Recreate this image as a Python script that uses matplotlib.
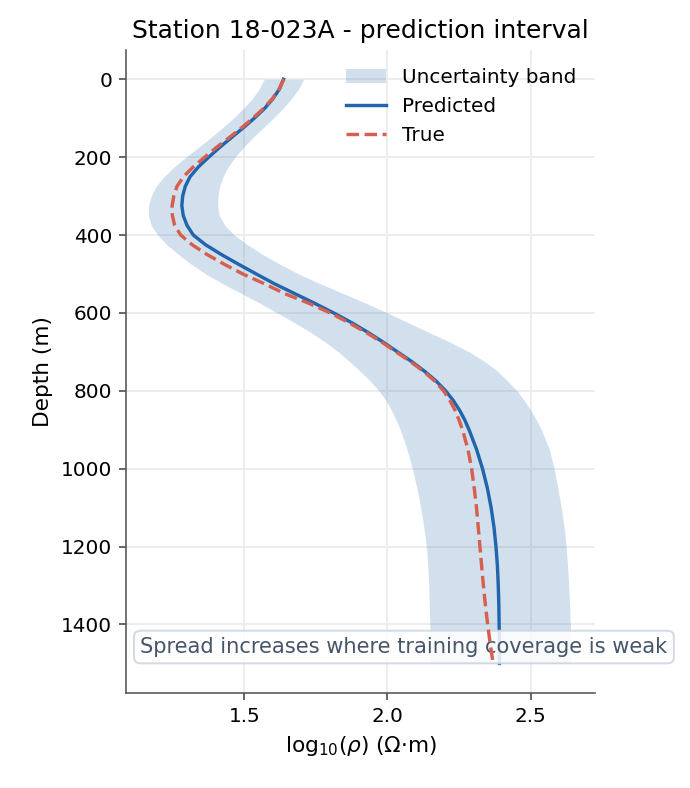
import matplotlib
matplotlib.use("Agg")
import matplotlib.pyplot as plt

depth = [0, 25, 50, 75, 100, 125, 150, 175, 200, 225, 250, 275, 300, 325, 350, 375,
         400, 425, 450, 475, 500, 525, 550, 575, 600, 625, 650, 675, 700, 725, 750,
         775, 800, 825, 850, 875, 900, 950, 1000, 1050, 1100, 1150, 1200, 1250,
         1300, 1350, 1400, 1450, 1500]
predicted = [1.637, 1.623, 1.600, 1.571, 1.535, 1.496, 1.455, 1.414, 1.376, 1.340,
             1.311, 1.294, 1.285, 1.282, 1.287, 1.300, 1.322, 1.365, 1.420, 1.480,
             1.542, 1.605, 1.675, 1.745, 1.812, 1.875, 1.932, 1.985, 2.035, 2.085,
             2.130, 2.170, 2.203, 2.230, 2.252, 2.270, 2.285, 2.311, 2.332, 2.349,
             2.362, 2.372, 2.379, 2.384, 2.387, 2.389, 2.390, 2.391, 2.391]
true_vals = [1.638, 1.622, 1.598, 1.567, 1.530, 1.490, 1.447, 1.403, 1.362, 1.322,
             1.288, 1.265, 1.254, 1.248, 1.249, 1.257, 1.278, 1.318, 1.370, 1.430,
             1.495, 1.570, 1.640, 1.725, 1.800, 1.865, 1.925, 1.980, 2.030, 2.080,
             2.126, 2.165, 2.196, 2.218, 2.236, 2.250, 2.262, 2.281, 2.294, 2.303,
             2.311, 2.317, 2.323, 2.329, 2.335, 2.342, 2.350, 2.359, 2.369]
band_lower = [1.570, 1.552, 1.528, 1.497, 1.462, 1.423, 1.383, 1.340, 1.296, 1.255,
              1.220, 1.192, 1.175, 1.166, 1.166, 1.175, 1.198, 1.230, 1.270, 1.315,
              1.365, 1.425, 1.490, 1.555, 1.615, 1.675, 1.732, 1.783, 1.828, 1.868,
              1.905, 1.940, 1.970, 1.995, 2.014, 2.030, 2.045, 2.068, 2.087, 2.103,
              2.116, 2.127, 2.136, 2.141, 2.144, 2.146, 2.148, 2.149, 2.149]
band_upper = [1.707, 1.690, 1.665, 1.635, 1.601, 1.566, 1.530, 1.497, 1.468, 1.444,
              1.426, 1.414, 1.408, 1.407, 1.413, 1.432, 1.465, 1.512, 1.565, 1.625,
              1.690, 1.765, 1.845, 1.925, 2.000, 2.072, 2.145, 2.218, 2.285, 2.340,
              2.385, 2.420, 2.452, 2.478, 2.500, 2.520, 2.538, 2.565, 2.582, 2.595,
              2.607, 2.617, 2.624, 2.629, 2.633, 2.636, 2.639, 2.640, 2.641]

title = "Station 18-023A - prediction interval"
note = "Spread increases where training coverage is weak"
xticks = [1.5, 2.0, 2.5]
yticks = [0, 200, 400, 600, 800, 1000, 1200, 1400]

blue = "#2166ac"
red = "#d6604d"

fig = plt.figure(figsize=(690 / 144, 788 / 144), dpi=144)
ax = fig.add_axes([0.183, 0.121, 0.679, 0.8155])

ax.fill_betweenx(depth, band_lower, band_upper, color=blue, alpha=0.2,
                 linewidth=0, label="Uncertainty band", zorder=1)
ax.plot(predicted, depth, color=blue, lw=1.7, label="Predicted", zorder=2)
ax.plot(true_vals, depth, color=red, lw=1.7, ls="--", label="True", zorder=4)

ax.set_xlim(1.088, 2.724)
ax.set_ylim(1575, -75)
ax.set_xticks(xticks)
ax.set_yticks(yticks)
ax.tick_params(labelsize=10, color="#444444")
ax.grid(True, color="#ebebeb", lw=0.9)
ax.set_axisbelow(True)
for s in ["top", "right"]:
    ax.spines[s].set_visible(False)
for s in ["left", "bottom"]:
    ax.spines[s].set_color("#555555")

ax.set_title(title, fontsize=12.5)
ax.set_xlabel(r"$\mathrm{log}_{10}(\rho)$ (Ω·m)", fontsize=10.8)
ax.set_ylabel("Depth (m)", fontsize=10.8)

ax.legend(loc="upper right", frameon=False, fontsize=10)

ax.text(0.03, 0.071, note, transform=ax.transAxes, fontsize=10.5, color="#475569",
        va="center", ha="left", zorder=3,
        bbox=dict(boxstyle="round,pad=0.3", fc="white", ec="#cbd5e1", alpha=0.85))

fig.savefig("out.png", dpi=144)
